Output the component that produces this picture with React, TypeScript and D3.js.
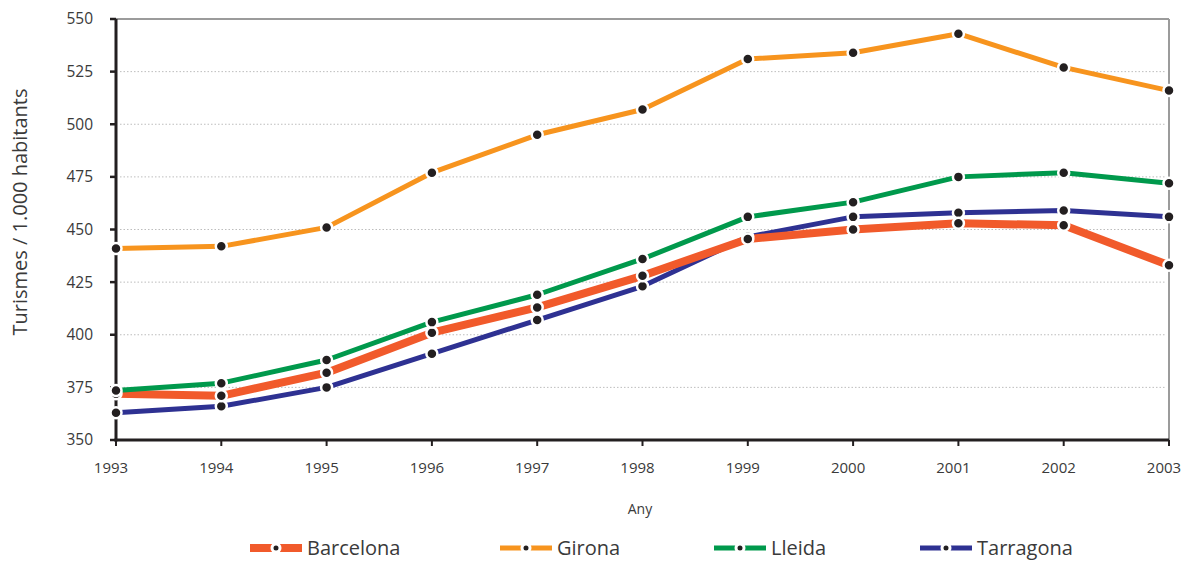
import React from "react";
import * as d3 from "d3";

const years = [1993, 1994, 1995, 1996, 1997, 1998, 1999, 2000, 2001, 2002, 2003];
const barcelona = [372, 371, 382, 401, 413, 428, 445.5, 450, 453, 452, 433];
const girona = [441, 442, 451, 477, 495, 507, 531, 534, 543, 527, 516];
const lleida = [373.5, 377, 388, 406, 419, 436, 456, 463, 475, 477, 472];
const tarragona = [363, 366, 375, 391, 407, 423, 446.5, 456, 458, 459, 456];
const yTicks = [350, 375, 400, 425, 450, 475, 500, 525, 550];

const seriesNames = ["Barcelona", "Girona", "Lleida", "Tarragona"];
const seriesValues = [barcelona, girona, lleida, tarragona];
const seriesColors = ["#f15a2b", "#f7941e", "#00994c", "#2e3192"];
const seriesWidths = [8, 5, 5, 5];
const legendX = [250, 500, 714, 920];

const W = 1184;
const H = 561;
const x0 = 116, x1 = 1169, yTop = 19, yBot = 440;
const FONT = "'Open Sans', 'Noto Sans', sans-serif";

export default function App() {
  const x = d3.scaleLinear().domain([1993, 2003]).range([x0, x1]);
  const y = d3.scaleLinear().domain([350, 550]).range([yBot, yTop]);
  const line = d3
    .line<number>()
    .x((_, i) => x(years[i]))
    .y((d) => y(d));

  const order = [3, 0, 2, 1];

  return (
    <svg
      width={W}
      height={H}
      style={{ position: "absolute", left: 0, top: 0, background: "#fff" }}
      fontFamily={FONT}
    >
      {yTicks.slice(1, -1).map((t) => (
        <line
          key={t}
          x1={x0 + 4}
          x2={x1 - 4}
          y1={y(t)}
          y2={y(t)}
          stroke="#bdbdbd"
          strokeWidth={1}
          strokeDasharray="1.5 2"
        />
      ))}
      <line x1={x0} x2={x1} y1={yTop} y2={yTop} stroke="#9b9b9b" strokeWidth={2} />
      <line x1={x1} x2={x1} y1={yTop} y2={yBot} stroke="#9b9b9b" strokeWidth={2} />
      <line x1={x0} x2={x0} y1={yTop} y2={yBot + 1.5} stroke="#231f20" strokeWidth={3} />
      <line x1={x0 - 1.5} x2={x1} y1={yBot} y2={yBot} stroke="#231f20" strokeWidth={3} />
      {yTicks.map((t) => (
        <g key={t}>
          <line x1={x0 - 6} x2={x0} y1={y(t)} y2={y(t)} stroke="#231f20" strokeWidth={2.5} />
          <text x={93} y={y(t)} dy="0.35em" textAnchor="end" fontSize={15.5} fill="#3a3a3a">
            {t}
          </text>
        </g>
      ))}
      {years.map((yr) => (
        <g key={yr}>
          <line x1={x(yr)} x2={x(yr)} y1={yBot} y2={yBot + 6} stroke="#231f20" strokeWidth={2} />
          <text x={x(yr) - 5} y={473} textAnchor="middle" fontSize={15} fill="#3a3a3a">
            {yr}
          </text>
        </g>
      ))}
      <text x={640} y={514} textAnchor="middle" fontSize={14} fill="#3a3a3a">
        Any
      </text>
      <text
        transform={`translate(27, 212) rotate(-90)`}
        textAnchor="middle"
        fontSize={20}
        fill="#3a3a3a"
      >
        Turismes / 1.000 habitants
      </text>

      {order.map((si) => (
        <path
          key={seriesNames[si]}
          d={line(seriesValues[si]) || ""}
          fill="none"
          stroke={seriesColors[si]}
          strokeWidth={seriesWidths[si]}
          strokeLinejoin="round"
        />
      ))}
      {order.map((si) => (
        <g key={seriesNames[si] + "-pts"}>
          {seriesValues[si].map((v, i) => (
            <circle
              key={i}
              cx={x(years[i])}
              cy={y(v)}
              r={5.5}
              fill="#231f20"
              stroke="#fff"
              strokeWidth={2.5}
            />
          ))}
        </g>
      ))}

      {seriesNames.map((n, i) => (
        <g key={n} transform={`translate(${legendX[i]}, 548)`}>
          <line x1={0} x2={52} y1={0} y2={0} stroke={seriesColors[i]} strokeWidth={seriesWidths[i]} />
          <circle cx={26} cy={0} r={4} fill="#231f20" stroke="#fff" strokeWidth={3} />
          <text x={57} y={0} dy="0.36em" fontSize={20} fill="#3a3a3a">
            {n}
          </text>
        </g>
      ))}
    </svg>
  );
}
